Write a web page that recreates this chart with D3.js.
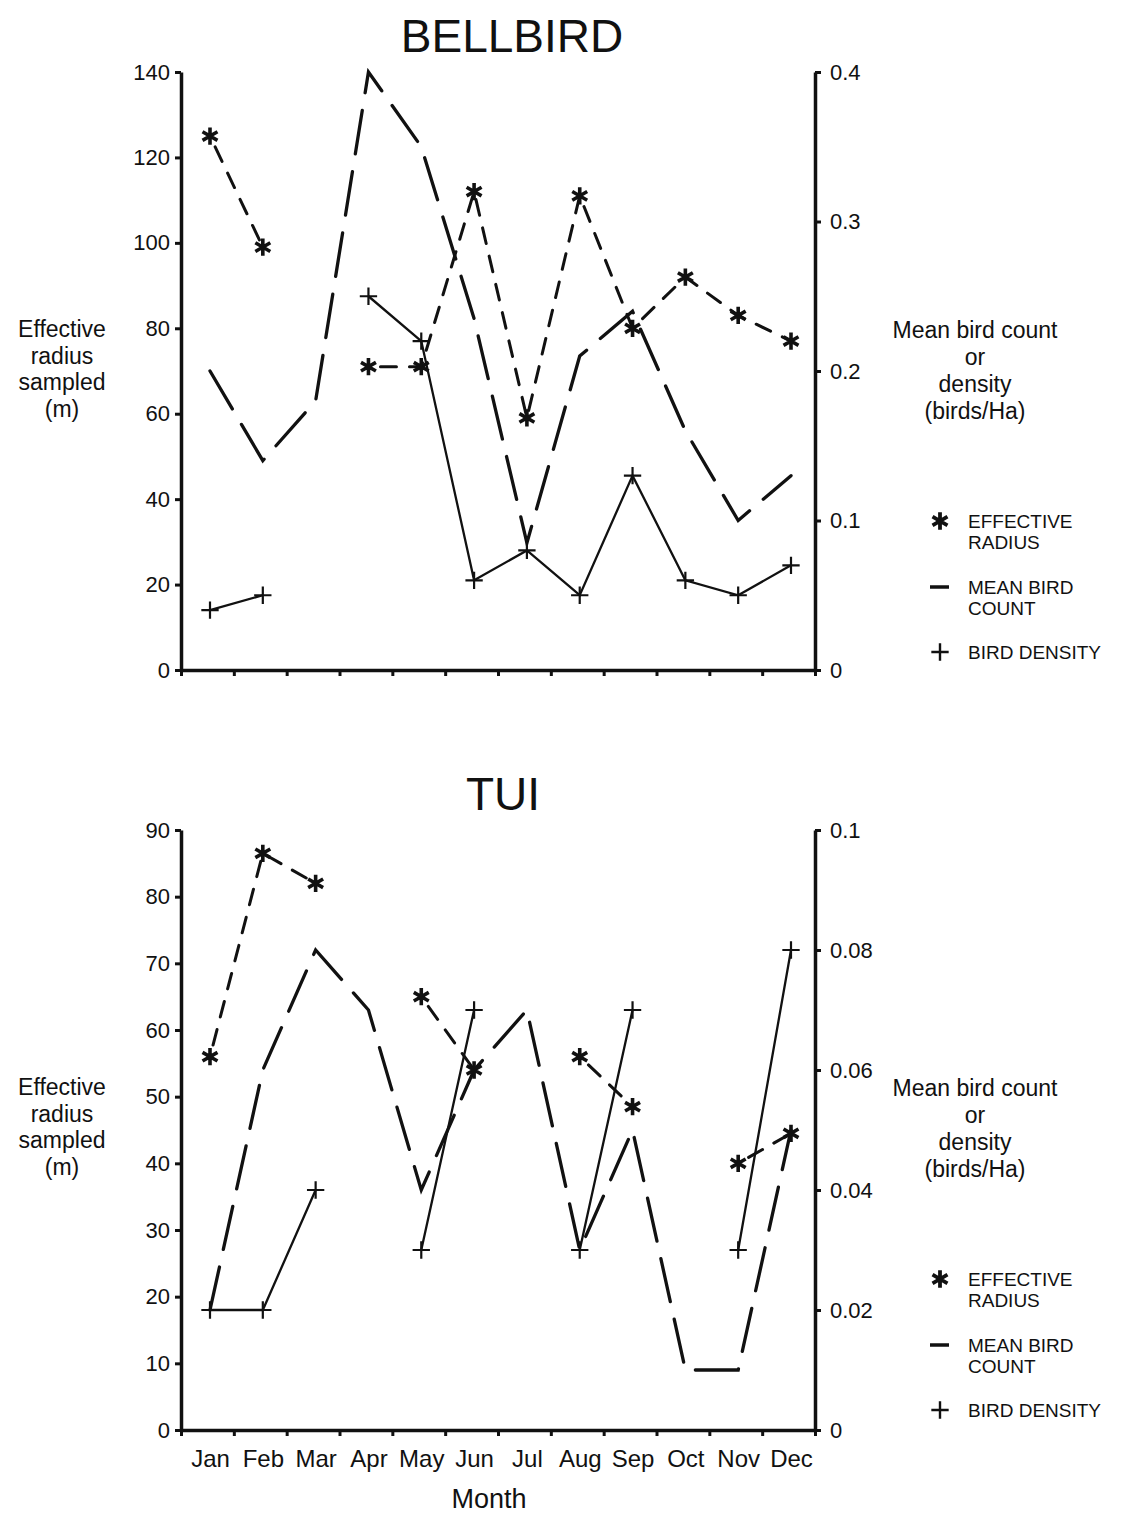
<!DOCTYPE html>
<html>
<head>
<meta charset="utf-8">
<script src="https://cdn.jsdelivr.net/npm/d3@7"></script>
<style>
body { margin:0; background:#fff; }
text { font-family: "Liberation Sans", Arial, Helvetica, sans-serif; fill:#111; }
</style>
</head>
<body>
<div id="chart"></div>
<script>
var width = 1128,
height = 1513,
xLeft = 181,
xRight = 815,
ink = "#111";

// months along the bottom
var months = ["Jan","Feb","Mar","Apr","May","Jun","Jul","Aug","Sep","Oct","Nov","Dec"];

// BELLBIRD (radius in m on left axis, count / density on right axis)
var bellRadius = [125, 99, null, 71, 71, 112, 59, 111, 80, 92, 83, 77];
var bellCount = [0.20, 0.14, 0.18, 0.40, 0.35, 0.235, 0.085, 0.21, 0.24, 0.16, 0.10, 0.13];
var bellDensity = [0.04, 0.05, null, 0.25, 0.22, 0.06, 0.08, 0.05, 0.13, 0.06, 0.05, 0.07];
var bellLeftTicks = [0, 20, 40, 60, 80, 100, 120, 140];
var bellRightTicks = [0, 0.1, 0.2, 0.3, 0.4];

// TUI
var tuiRadius = [56, 86.5, 82, null, 65, 54, null, 56, 48.5, null, 40, 44.5];
var tuiCount = [0.02, 0.06, 0.08, 0.07, 0.04, 0.06, 0.07, 0.03, 0.05, 0.01, 0.01, 0.05];
var tuiDensity = [0.02, 0.02, 0.04, null, 0.03, 0.07, null, 0.03, 0.07, null, 0.03, 0.08];
var tuiLeftTicks = [0, 10, 20, 30, 40, 50, 60, 70, 80, 90];
var tuiRightTicks = [0, 0.02, 0.04, 0.06, 0.08, 0.1];

var legendItems = [["EFFECTIVE","RADIUS"],["MEAN BIRD","COUNT"],["BIRD DENSITY"]];

var svg = d3.select("#chart").append("svg")
	.attr("width", width)
	.attr("height", height)
	.style("background-color", "#fff");

var xm = d3.scalePoint().domain(months).range([210, 791]);
var xt = d3.scaleLinear().domain([0, 12]).range([xLeft, xRight]);

function panel(top, bottom, title, titleX, radius, count, density, leftTicks, rightTicks, showMonths) {
	var g = svg.append("g");
	var yL = d3.scaleLinear().domain([0, d3.max(leftTicks)]).range([bottom, top]);
	var yR = d3.scaleLinear().domain([0, d3.max(rightTicks)]).range([bottom, top]);

	g.append("text")
		.attr("x", titleX).attr("y", top - 20)
		.attr("text-anchor", "middle")
		.style("font-size", "46px")
		.text(title);

	// axes
	var axL = g.append("g").attr("transform", "translate(" + xLeft + ",0)")
		.call(d3.axisLeft(yL).tickValues(leftTicks).tickSize(6).tickSizeOuter(0).tickPadding(5));
	var axR = g.append("g").attr("transform", "translate(" + xRight + ",0)")
		.call(d3.axisRight(yR).tickValues(rightTicks).tickSize(6).tickSizeOuter(0).tickPadding(9)
			.tickFormat(function(d){ return d == 0 ? "0" : d3.format("~g")(d); }));
	var axB = g.append("g").attr("transform", "translate(0," + bottom + ")")
		.call(d3.axisBottom(xt).ticks(12).tickSize(6).tickSizeOuter(0).tickFormat(""));
	[axL, axR, axB].forEach(function(a){
		a.select(".domain").attr("stroke", ink).attr("stroke-width", 3.5);
		a.selectAll(".tick line").attr("stroke", ink).attr("stroke-width", 3);
		a.selectAll(".tick text").style("font-size", "22px").attr("fill", ink)
			.style("font-family", "'Liberation Sans', Arial, sans-serif");
	});

	if (showMonths) {
		var axM = g.append("g").attr("transform", "translate(0," + (bottom + 12) + ")")
			.call(d3.axisBottom(xm).tickSize(0).tickPadding(8));
		axM.select(".domain").remove();
		axM.selectAll(".tick text").style("font-size", "24px").attr("fill", ink)
			.style("font-family", "'Liberation Sans', Arial, sans-serif");
		g.append("text")
			.attr("x", 489).attr("y", bottom + 78)
			.attr("text-anchor", "middle")
			.style("font-size", "27px")
			.text("Month");
	}

	// axis titles
	var lt = g.append("text").attr("text-anchor", "middle").style("font-size", "23px");
	["Effective","radius","sampled","(m)"].forEach(function(s, i){
		lt.append("tspan").attr("x", 62).attr("y", top + 265 + i * 26.5).text(s);
	});
	var rt = g.append("text").attr("text-anchor", "middle").style("font-size", "23px");
	["Mean bird count","or","density","(birds/Ha)"].forEach(function(s, i){
		rt.append("tspan").attr("x", 975).attr("y", top + 266 + i * 27).text(s);
	});

	// series
	var lineR = d3.line().defined(function(d){ return d != null; })
		.x(function(d, i){ return xm(months[i]); }).y(function(d){ return yL(d); });
	var lineC = d3.line().defined(function(d){ return d != null; })
		.x(function(d, i){ return xm(months[i]); }).y(function(d){ return yR(d); });

	g.append("path").datum(count).attr("d", lineC)
		.attr("fill", "none").attr("stroke", ink).attr("stroke-width", 3.3)
		.attr("stroke-dasharray", "44,18").attr("stroke-linecap", "round");
	g.append("path").datum(radius).attr("d", lineR)
		.attr("fill", "none").attr("stroke", ink).attr("stroke-width", 3)
		.attr("stroke-dasharray", "16,13").attr("stroke-dashoffset", -12).attr("stroke-linecap", "round");
	g.append("path").datum(density).attr("d", lineC)
		.attr("fill", "none").attr("stroke", ink).attr("stroke-width", 2.3);

	var star = d3.symbol().type(d3.symbolAsterisk).size(210);
	var plus = d3.symbol().type(d3.symbolPlus).size(100);

	g.selectAll(".star").data(radius.map(function(v, i){ return {m: months[i], v: v}; }).filter(function(d){ return d.v != null; }))
		.enter().append("path").attr("class", "star")
		.attr("transform", function(d){ return "translate(" + xm(d.m) + "," + yL(d.v) + ")"; })
		.attr("d", star).attr("fill", "none").attr("stroke", ink).attr("stroke-width", 3.6);

	g.selectAll(".plus").data(density.map(function(v, i){ return {m: months[i], v: v}; }).filter(function(d){ return d.v != null; }))
		.enter().append("path").attr("class", "plus")
		.attr("transform", function(d){ return "translate(" + xm(d.m) + "," + yR(d.v) + ")"; })
		.attr("d", plus).attr("fill", "none").attr("stroke", ink).attr("stroke-width", 2.2);

	// legend
	var ly = [top + 449, top + 515, top + 580];
	legendItems.forEach(function(item, k){
		var lg = g.append("g").attr("transform", "translate(940," + ly[k] + ")");
		if (k == 0) {
			lg.append("path").attr("d", star).attr("fill", "none").attr("stroke", ink).attr("stroke-width", 3.8);
		} else if (k == 1) {
			lg.append("line").attr("x1", -10).attr("x2", 9).attr("y1", 0).attr("y2", 0)
				.attr("stroke", ink).attr("stroke-width", 3.5);
		} else {
			lg.append("path").attr("d", plus).attr("fill", "none").attr("stroke", ink).attr("stroke-width", 2.4);
		}
		var t = lg.append("text").style("font-size", "19px");
		item.forEach(function(s, j){
			t.append("tspan").attr("x", 28).attr("y", 7 + j * 21).text(s);
		});
	});
}

panel(72, 670, "BELLBIRD", 512, bellRadius, bellCount, bellDensity, bellLeftTicks, bellRightTicks, false);
panel(830, 1430, "TUI", 503, tuiRadius, tuiCount, tuiDensity, tuiLeftTicks, tuiRightTicks, true);
</script>
</body>
</html>
